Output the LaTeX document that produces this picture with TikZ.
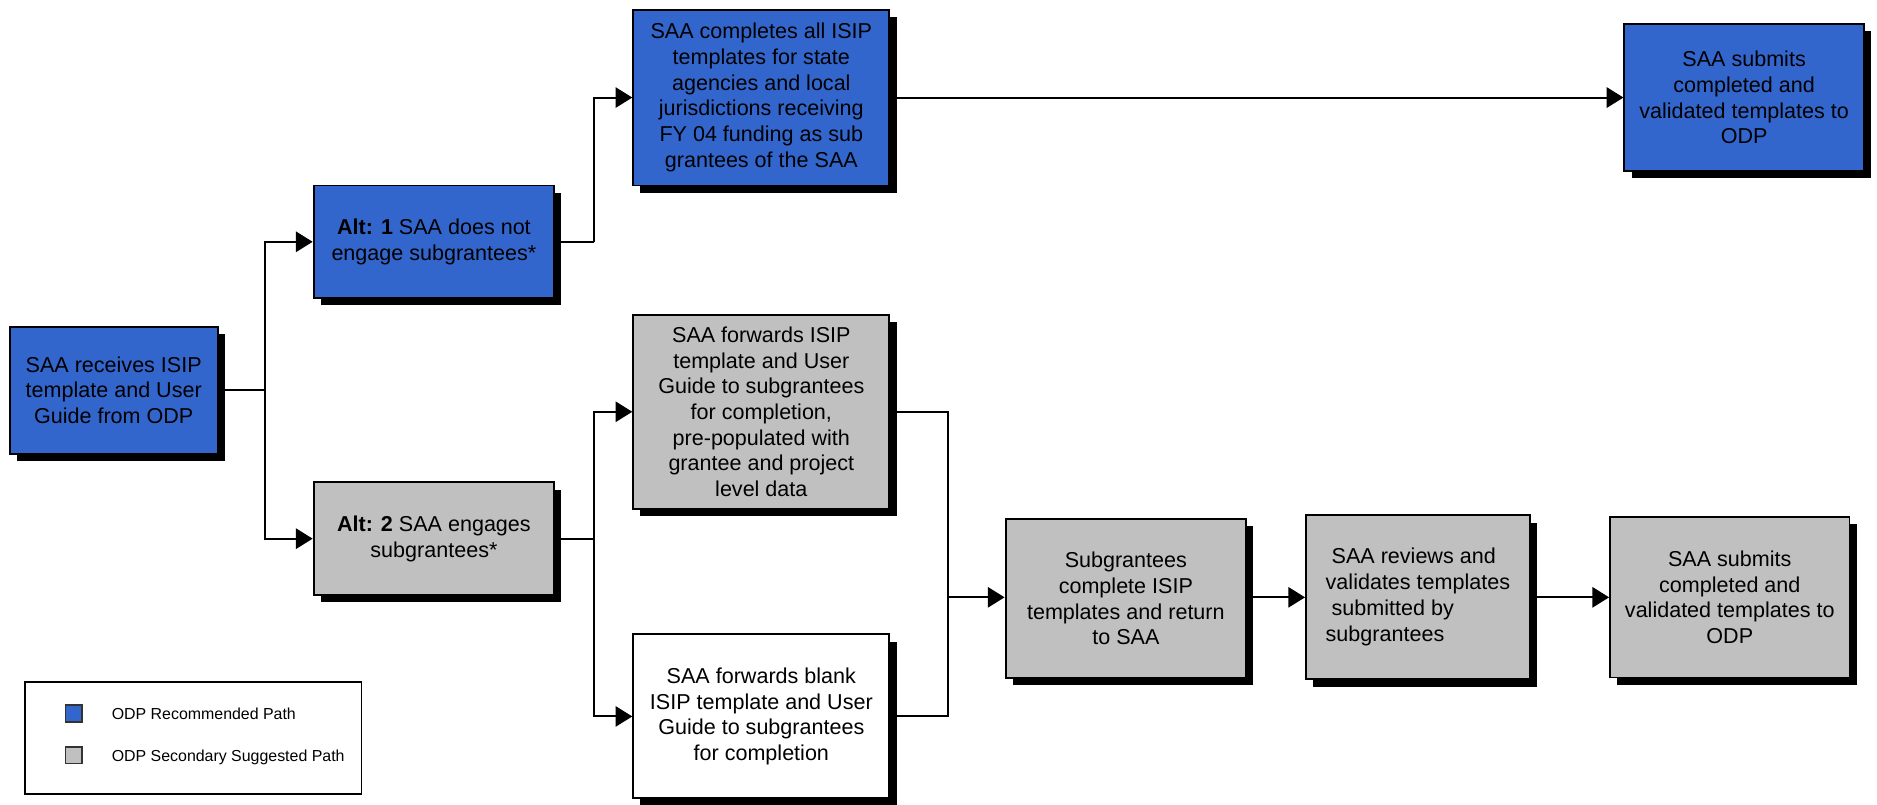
\documentclass[tikz,border=0pt]{standalone}
\usepackage{fontspec}
\setmainfont{Liberation Sans}
\usetikzlibrary{arrows.meta,shadows}
\definecolor{odpblue}{HTML}{3366CC}
\definecolor{odpgray}{HTML}{C0C0C0}
\begin{document}
\begin{tikzpicture}[x=0.5pt,y=-0.5pt,
  box/.style={draw=black, line width=0.8pt, align=center, inner sep=2pt,
    font=\fontsize{9}{10.75}\selectfont,
    general shadow={fill=black, shadow xshift=3pt, shadow yshift=-3pt}},
  bluebox/.style={box, fill=odpblue},
  graybox/.style={box, fill=odpgray},
  whitebox/.style={box, fill=white},
  conn/.style={line width=0.8pt},
  arr/.style={conn, -{Triangle[length=7pt,width=8.5pt]}},
  legtext/.style={anchor=west, inner sep=0pt, font=\fontsize{6.65}{8}\selectfont},
  legsq/.style={draw=black!80, line width=0.6pt, minimum size=7pt, inner sep=0pt},
  ]
\useasboundingbox (0,0) rectangle (1568,672);

\node[bluebox, minimum width=87pt, minimum height=53pt] (A) at (95,326)
  {SAA receives ISIP\\template and User\\Guide from ODP};
\node[bluebox, minimum width=100.5pt, minimum height=47pt] (alt1) at (362.5,202)
  {\textbf{Alt: 1} SAA does not\\engage subgrantees*};
\node[graybox, minimum width=100.5pt, minimum height=47pt] (alt2) at (362.5,450)
  {\textbf{Alt: 2} SAA engages\\subgrantees*};
\node[bluebox, minimum width=107pt, minimum height=73.5pt] (top) at (636,81.5)
  {SAA completes all ISIP\\templates for state\\agencies and local\\jurisdictions receiving\\FY 04 funding as sub\\grantees of the SAA};
\node[bluebox, minimum width=100pt, minimum height=61.5pt] (rb) at (1457,81.5)
  {SAA submits\\completed and\\validated templates to\\ODP};
\node[graybox, minimum width=107pt, minimum height=81pt] (fwd) at (636,344)
  {SAA forwards ISIP\\template and User\\Guide to subgrantees\\for completion,\\pre-populated with\\grantee and project\\level data};
\node[whitebox, minimum width=107pt, minimum height=68.5pt] (blank) at (636,598.5)
  {SAA forwards blank\\ISIP template and User\\Guide to subgrantees\\for completion};
\node[graybox, minimum width=100.5pt, minimum height=66.5pt] (sub) at (940.5,500)
  {Subgrantees\\complete ISIP\\templates and return\\to SAA};
\node[graybox, minimum width=93.5pt, minimum height=68.5pt] (rev) at (1184.5,499)
  {\begin{tabular}{@{}l@{}}\ SAA reviews and\\validates templates\\\ submitted by\\subgrantees\end{tabular}};
\node[graybox, minimum width=100pt, minimum height=67pt] (sub2) at (1445,499)
  {SAA submits\\completed and\\validated templates to\\ODP};

% connectors
\coordinate (j1) at (221,326);
\coordinate (j2) at (496,202);
\coordinate (j3) at (496,450);
\coordinate (j4) at (792,499);
\draw[conn] (A.east) -- (j1);
\draw[arr] (j1) |- (alt1.west);
\draw[arr] (j1) |- (alt2.west);
\draw[conn] (alt1.east) -- (j2);
\draw[arr] (j2) |- (top.west);
\draw[arr] (top.east) -- (top.east -| rb.west);
\draw[conn] (alt2.east) -- (j3);
\draw[arr] (j3) |- (fwd.west);
\draw[arr] (j3) |- (blank.west);
\draw[conn] (fwd.east) -| (j4);
\draw[conn] (blank.east) -| (j4);
\draw[arr] (j4) -- (j4 -| sub.west);
\draw[arr] (sub.east |- rev.west) -- (rev.west);
\draw[arr] (rev.east) -- (rev.east -| sub2.west);

% legend
\node[draw=black, line width=0.8pt, minimum width=140.5pt, minimum height=46.5pt, inner sep=0pt] (legend) at (161.5,616.5) {};
\node[legsq, fill=odpblue] (lb) at (61.5,596) {};
\node[legsq, fill=odpgray] (lg) at (61.5,631) {};
\node[legtext] (lbt) at (93,596) {ODP Recommended Path};
\node[legtext] (lgt) at (93,633) {ODP Secondary Suggested Path};
\end{tikzpicture}
\end{document}
